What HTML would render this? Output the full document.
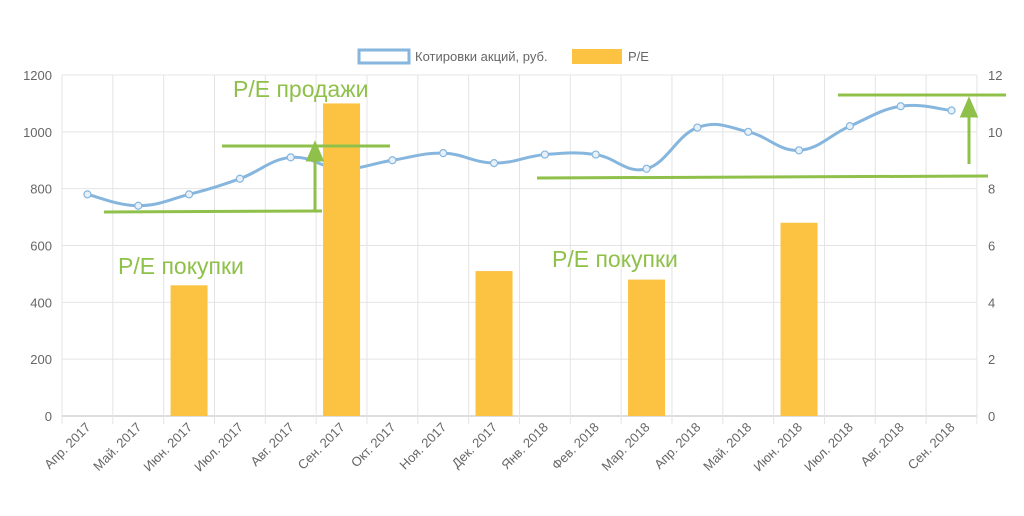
<!DOCTYPE html><html><head><meta charset="utf-8"><style>body{margin:0;background:#fff}svg{display:block;font-family:"Liberation Sans",sans-serif}</style></head><body>
<svg id="s" width="1024" height="516" xmlns="http://www.w3.org/2000/svg">
<g id="grid" stroke="#e4e4e4" stroke-width="1"></g>
<g id="ax" font-size="13" fill="#666"></g>
<g id="bars" fill="#fcc343"></g>
<path id="ln" fill="none" stroke="#86b6de" stroke-width="3"/>
<g id="pts" fill="#e8f1fa" stroke="#86b6de" stroke-width="1.2"></g>
<rect x="359" y="50" width="50" height="13" fill="#fff" stroke="#86b6de" stroke-width="3"/>
<text x="415" y="61" font-size="13" fill="#666">Котировки акций, руб.</text>
<rect x="572" y="49" width="50" height="15" fill="#fcc343"/>
<text x="628" y="61" font-size="13" fill="#666">P/E</text>
<g stroke="#8fc04a" stroke-width="3" fill="#8fc04a">
<line x1="104" y1="212" x2="322" y2="211"/>
<line x1="222" y1="146" x2="390" y2="146"/>
<line x1="315" y1="211" x2="315" y2="156"/>
<polygon points="308,160 315,144 322,160"/>
<line x1="537" y1="178" x2="988" y2="176"/>
<line x1="838" y1="95" x2="1006" y2="95"/>
<line x1="969" y1="164" x2="969" y2="112"/>
<polygon points="962,116 969,100 976,116"/>
</g>
<g fill="#8fc04a" font-size="23">
<text x="233" y="97">P/E продажи</text>
<text x="118" y="274">P/E покупки</text>
<text x="552" y="267">P/E покупки</text>
</g>
</svg>
<script>
const L=62,W=50.83,T=75,B=416,ns="http://www.w3.org/2000/svg";
function el(p,t,a,txt){const e=document.createElementNS(ns,t);for(const k in a)e.setAttribute(k,a[k]);if(txt)e.textContent=txt;document.getElementById(p).appendChild(e);return e;}
for(let i=0;i<=6;i++){const y=B-i*(B-T)/6;el('grid','line',{x1:L,x2:977,y1:y,y2:y,stroke:i==0?'#bbb':'#e4e4e4'});
el('ax','text',{x:52,y:y+5,'text-anchor':'end'},String(i*200));el('ax','text',{x:988,y:y+5},String(i*2));}
for(let i=0;i<=18;i++){const x=L+i*W;el('grid','line',{x1:x,x2:x,y1:T,y2:B+8});}
const m=['Апр. 2017','Май. 2017','Июн. 2017','Июл. 2017','Авг. 2017','Сен. 2017','Окт. 2017','Ноя. 2017','Дек. 2017','Янв. 2018','Фев. 2018','Мар. 2018','Апр. 2018','Май. 2018','Июн. 2018','Июл. 2018','Авг. 2018','Сен. 2018'];
m.forEach((t,i)=>{const x=L+(i+.5)*W+4;el('ax','text',{x:x,y:428,'text-anchor':'end',transform:`rotate(-45 ${x} 428)`},t);});
const bars={2:4.6,5:11,8:5.1,11:4.8,14:6.8};
for(const i in bars){const h=bars[i]*(B-T)/12;el('bars','rect',{x:L+(+i+.5)*W-18.5,y:B-h,width:37,height:h});}
const v=[780,740,780,835,910,870,900,925,890,920,920,870,1015,1000,935,1020,1090,1075];
const p=v.map((a,i)=>[L+(i+.5)*W,B-a*(B-T)/1200]);
let d=`M${p[0]}`;for(let i=0;i<p.length-1;i++){const a=p[i-1]||p[i],b=p[i],c=p[i+1],e=p[i+2]||c,k=.4/2;
d+=` C${b[0]+(c[0]-a[0])*k},${b[1]+(c[1]-a[1])*k} ${c[0]-(e[0]-b[0])*k},${c[1]-(e[1]-b[1])*k} ${c[0]},${c[1]}`;}
document.getElementById('ln').setAttribute('d',d);
p.forEach(q=>el('pts','circle',{cx:q[0],cy:q[1],r:3.5}));
const s=document.getElementById('s');s.insertBefore(document.getElementById('bars'),null);
['bars'].forEach(()=>{});
// move bars above line, keep greens on top
const g=s.querySelectorAll('g[stroke="#8fc04a"], g[fill="#8fc04a"]');g.forEach(x=>s.appendChild(x));
</script>
</body></html>
